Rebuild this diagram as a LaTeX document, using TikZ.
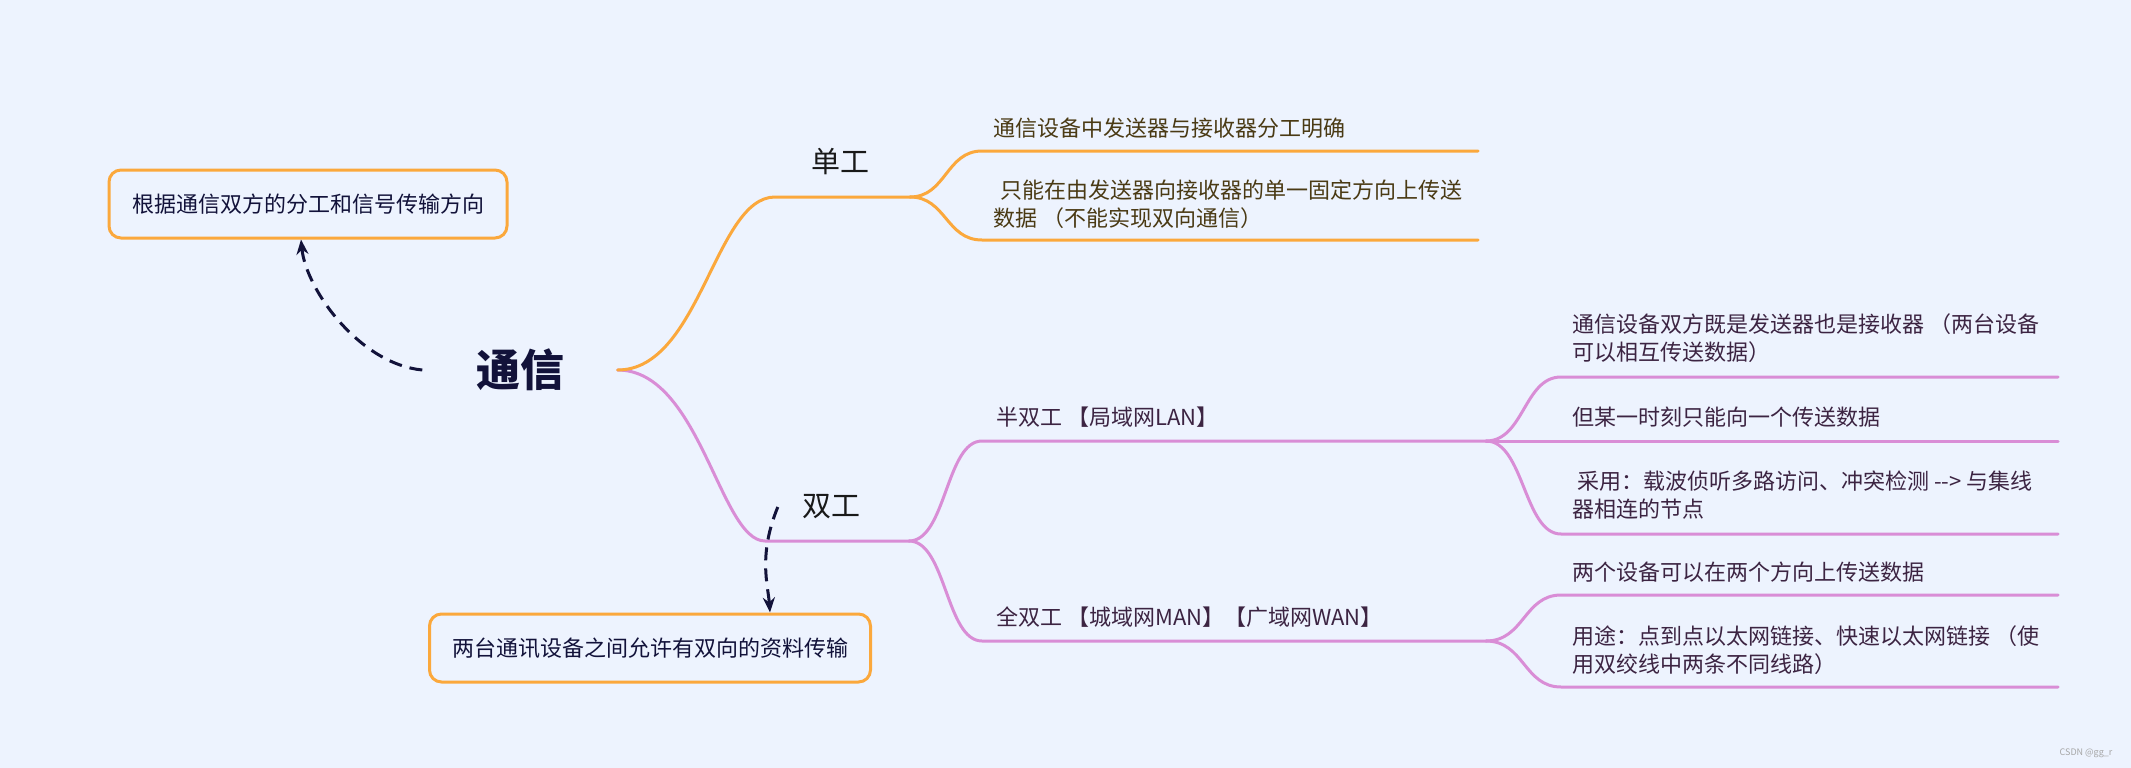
\documentclass[tikz,border=0pt]{standalone}
\usepackage{fontspec}
\setmainfont{Noto Sans CJK SC}
\usepackage{xcolor}
\usetikzlibrary{positioning,arrows.meta,calc}
\definecolor{bgblue}{HTML}{EDF3FE}
\definecolor{brorange}{HTML}{FBA83C}
\definecolor{brpink}{HTML}{D98DD6}
\definecolor{inkblue}{HTML}{12123A}
\definecolor{leafbrown}{HTML}{4A3A14}
\definecolor{leafplum}{HTML}{3C2442}
\tikzset{
  note/.style ={rectangle, rounded corners=12pt, draw=brorange, line width=3pt,
                fill=bgblue, align=center, inner sep=0pt, minimum height=68pt,
                font=\fontsize{22}{28}\selectfont, text=inkblue},
  topic/.style={inner xsep=24pt, inner ysep=4pt, text=black!90,
                font=\fontsize{29}{34}\selectfont},
  leaf/.style ={anchor=west, align=left, inner sep=0pt,
                font=\fontsize{22}{27.5}\selectfont},
  obr/.style  ={draw=brorange, line width=3pt, line cap=round},
  pbr/.style  ={draw=brpink, line width=3pt, line cap=round},
  dsh/.style  ={-{Stealth[length=15pt,width=12pt]}, draw=inkblue, line width=3pt,
                dash pattern=on 13pt off 8pt},
}

\begin{document}
\begin{tikzpicture}[x=1pt, y=-1pt]
  \fill[bgblue] (0,0) rectangle (2131,768);
  \useasboundingbox (0,0) rectangle (2131,768);

  % root and notes
  \node[minimum width=195pt, text=inkblue, font=\fontsize{44}{50}\selectfont\bfseries]
       (root) at (520,370) {通信};
  \node[note, minimum width=398pt] (why) at (308,204) {根据通信双方的分工和信号传输方向};
  \node[note, minimum width=441pt] (what) at (650,648) {两台通讯设备之间允许有双向的资料传输};

  % main topics
  \node[topic] (sim) at (840,162) {单工};
  \node[topic] (dup) at (831,507) {双工};

  \coordinate (simA) at (775,197);  \coordinate (simB) at (910,197);
  \coordinate (dupA) at (765,541);  \coordinate (dupB) at (909,541);
  \coordinate (halfA) at (982,441); \coordinate (halfB) at (1486,441);
  \coordinate (fullA) at (982,641); \coordinate (fullB) at (1486,641);

  \draw[pbr] (root.east) .. controls (700,370) and (720,541) .. (dupA) -- (dupB);
  \draw[obr] (root.east) .. controls (700,370) and (715,197) .. (simA) -- (simB);

  % simplex leaves
  \foreach \n/\y in {o1/151, o2/240}{
    \coordinate (\n) at (982,\y); \coordinate (\n e) at (1478,\y);
    \draw[obr] (simB) .. controls (946,197) and (946,\y) .. (\n) -- (\n e);
  }
  \node[leaf, text=leafbrown] (o1t) at (993,128) {通信设备中发送器与接收器分工明确};
  \node[leaf, text=leafbrown] (o2t) at (993,204)
       {\hspace*{7pt}只能在由发送器向接收器的单一固定方向上传送\\数据 （不能实现双向通信）};

  % duplex: half / full
  \draw[pbr] (dupB) .. controls (946,541) and (946,441) .. (halfA) -- (halfB);
  \draw[pbr] (dupB) .. controls (946,541) and (946,641) .. (fullA) -- (fullB);
  \node[leaf, text=leafplum] (halfT) at (996,417) {半双工 【局域网LAN】};
  \node[leaf, text=leafplum] (fullT) at (996,617) {全双工 【城域网MAN】【广域网WAN】};

  \foreach \n/\y in {p1/377, p2/441, p3/534}{
    \coordinate (\n) at (1561,\y); \coordinate (\n e) at (2058,\y);
    \draw[pbr] (halfB) .. controls (1524,441) and (1524,\y) .. (\n) -- (\n e);
  }
  \foreach \n/\y in {p4/595, p5/687}{
    \coordinate (\n) at (1561,\y); \coordinate (\n e) at (2058,\y);
    \draw[pbr] (fullB) .. controls (1524,641) and (1524,\y) .. (\n) -- (\n e);
  }
  \node[leaf, text=leafplum] (p1t) at (1572,338)
       {通信设备双方既是发送器也是接收器 （两台设备\\可以相互传送数据）};
  \node[leaf, text=leafplum] (p2t) at (1572,417) {但某一时刻只能向一个传送数据};
  \node[leaf, text=leafplum] (p3t) at (1572,495)
       {\hspace*{5pt}采用：载波侦听多路访问、冲突检测 {-}{-}> 与集线\\器相连的节点};
  \node[leaf, text=leafplum] (p4t) at (1572,572) {两个设备可以在两个方向上传送数据};
  \node[leaf, text=leafplum] (p5t) at (1572,650)
       {用途：点到点以太网链接、快速以太网链接 （使\\用双绞线中两条不同线路）};

  % dashed links to the notes
  \draw[dsh] (root.west) .. controls (360,364) and (306,290) .. ([xshift=-7pt]why.south);
  \draw[dsh] (dup.west) .. controls (758,555) and (768,585) .. ([xshift=120pt]what.north);

  \node[text=black!35, font=\fontsize{9}{10}\selectfont] (mark) at (2086,753) {CSDN @gg\_r};
\end{tikzpicture}
\end{document}
